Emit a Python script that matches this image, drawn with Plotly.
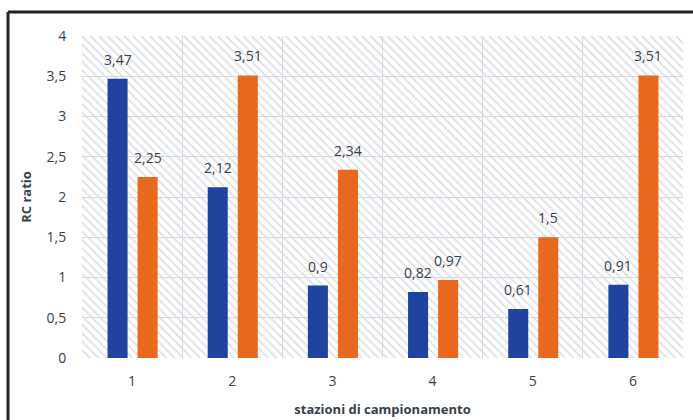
import plotly.graph_objects as go

stations = [1, 2, 3, 4, 5, 6]
blue_vals = [3.47, 2.12, 0.9, 0.82, 0.61, 0.91]
orange_vals = [2.25, 3.51, 2.34, 0.97, 1.5, 3.51]
y_ticks = [0, 0.5, 1, 1.5, 2, 2.5, 3, 3.5, 4]
x_title = "stazioni di campionamento"
y_title = "RC ratio"


def fmt(v):
    s = ("%g" % v)
    return s.replace(".", ",")


TXT = "#36414c"
FONT = "Open Sans"
BAR_W = 0.2

fig = go.Figure()

# hatched background per category
fig.add_trace(go.Bar(
    x=stations, y=[max(y_ticks)] * len(stations), width=1,
    marker=dict(color="rgba(0,0,0,0)", line=dict(width=0),
                pattern=dict(shape="\\", size=6, solidity=0.25, fillmode="replace",
                             fgcolor="#dadce2", bgcolor="rgba(0,0,0,0)")),
    hoverinfo="skip", showlegend=False,
))

annotations = []
for vals, color, off in [(blue_vals, "#2043a0", -0.245), (orange_vals, "#e8691e", 0.055)]:
    fig.add_trace(go.Bar(
        x=stations, y=vals, width=BAR_W, offset=off,
        marker=dict(color=color, line=dict(width=0)),
        showlegend=False,
    ))
    for s, v in zip(stations, vals):
        annotations.append(dict(
            x=s + off + BAR_W / 2, y=v, xref="x", yref="y", text=fmt(v),
            showarrow=False, yanchor="bottom", yshift=8,
            font=dict(size=14, color=TXT, family=FONT),
        ))

fig.update_layout(
    width=693, height=420,
    margin=dict(l=82, r=10, t=36, b=62),
    paper_bgcolor="white", plot_bgcolor="white",
    barmode="overlay",
    font=dict(family=FONT, color=TXT, size=14),
    annotations=annotations,
    xaxis=dict(
        range=[0.5, 6.5], tickvals=stations, ticktext=[str(s) for s in stations],
        showgrid=False, zeroline=False, showline=False, automargin=False,
        ticks="outside", ticklen=10, tickcolor="rgba(0,0,0,0)",
        tickfont=dict(size=14, color=TXT),
        minor=dict(tickvals=[s - 0.5 for s in stations] + [stations[-1] + 0.5],
                   showgrid=True, gridcolor="#d3d9e0", gridwidth=1, ticks=""),
        title=dict(text="<b>" + x_title + "</b>", font=dict(size=13, color=TXT), standoff=16),
    ),
    yaxis=dict(
        range=[0, 4], tickvals=y_ticks, ticktext=[fmt(v) for v in y_ticks],
        showgrid=True, gridcolor="#d3d9e0", gridwidth=1, zeroline=False, showline=False,
        automargin=False,
        ticks="outside", ticklen=12, tickcolor="rgba(0,0,0,0)",
        tickfont=dict(size=14, color=TXT),
        title=dict(text="<b>" + y_title + "</b>", font=dict(size=13, color=TXT), standoff=12),
    ),
    shapes=[
        dict(type="line", xref="paper", yref="paper", x0=-0.1231, x1=1.03, y0=1.0745, y1=1.0745,
             line=dict(color="#222222", width=3)),
        dict(type="line", xref="paper", yref="paper", x0=-0.1231, x1=-0.1231, y0=1.0745, y1=-0.25,
             line=dict(color="#222222", width=3)),
    ],
)

fig.write_html("out.html")
